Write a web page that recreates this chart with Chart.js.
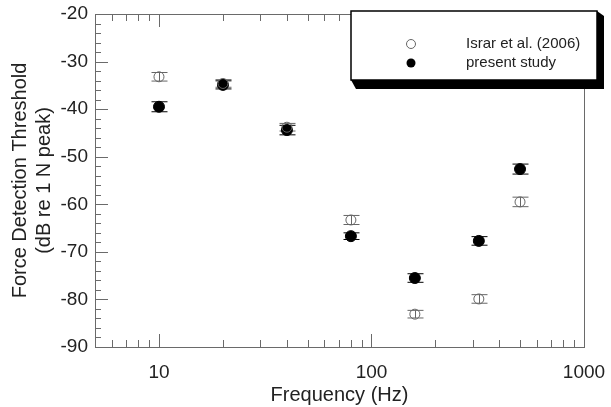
<!DOCTYPE html>
<html>
<head>
<meta charset="utf-8">
<script src="https://cdn.jsdelivr.net/npm/chart.js@4/dist/chart.umd.min.js"></script>
<style>
  html, body { margin: 0; padding: 0; background: #fff; }
  #wrap { width: 611px; height: 407px; }
</style>
</head>
<body>
<div id="wrap"><canvas id="chart"></canvas></div>
<script>
// frequencies tested (Hz)
const frequencies = [10, 20, 40, 80, 160, 320, 500];

// thresholds in dB re 1 N peak
const israrValues = [-33.2, -34.6, -43.8, -63.3, -83.1, -79.9, -59.5];
const israrErrors = [0.9, 0.8, 0.8, 0.95, 0.8, 0.9, 1.0];
const presentValues = [-39.5, -34.9, -44.4, -66.7, -75.5, -67.7, -52.6];
const presentErrors = [1.05, 0.85, 1.0, 0.7, 0.9, 0.9, 1.05];

const seriesLabels = ['Israr et al. (2006)', 'present study'];
const xTickValues = [10, 100, 1000];
const yTitleLines = ['Force Detection Threshold', '(dB re 1 N peak)'];
const xTitle = 'Frequency (Hz)';

const FONT = 'Arial, "Liberation Sans", sans-serif';
const TEXT = '#222';
const AXIS = '#6a6a6a';

function toPoints(values) {
  return frequencies.map((f, i) => ({ x: f, y: values[i] }));
}

// frame + inward ticks (left and bottom/top)
const tickPlugin = {
  id: 'insideTicks',
  afterDraw(chart) {
    const { ctx, chartArea: a, scales } = chart;
    const xs = scales.x, ys = scales.y;
    ctx.save();
    ctx.strokeStyle = AXIS;
    ctx.lineWidth = 1;
    ctx.strokeRect(a.left + 0.5, a.top + 0.5, a.right - a.left, a.bottom - a.top);

    ctx.beginPath();
    // y ticks every 2 dB, long ones every 10
    for (let v = ys.min; v <= ys.max; v += 2) {
      const y = Math.round(ys.getPixelForValue(v)) + 0.5;
      const len = (v % 10 === 0) ? 13 : 6;
      ctx.moveTo(a.left, y);
      ctx.lineTo(a.left + len, y);
    }
    // x log ticks, bottom and top
    for (let d = 1; d <= 1000; d *= 10) {
      for (let m = 1; m <= 9; m++) {
        const v = d * m;
        if (v <= xs.min || v >= xs.max) continue;
        const x = Math.round(xs.getPixelForValue(v)) + 0.5;
        const len = (m === 1) ? 13 : 7;
        ctx.moveTo(x, a.bottom);
        ctx.lineTo(x, a.bottom - len);
        ctx.moveTo(x, a.top);
        ctx.lineTo(x, a.top + len);
      }
    }
    ctx.stroke();
    ctx.restore();
  }
};

// vertical error bars with caps
const errorBarPlugin = {
  id: 'errorBars',
  beforeDatasetsDraw(chart) {
    const { ctx, scales } = chart;
    const errs = [israrErrors, presentErrors];
    ctx.save();
    chart.data.datasets.forEach((ds, di) => {
      ctx.strokeStyle = di === 0 ? '#666' : '#000';
      ctx.lineWidth = 1;
      ds.data.forEach((p, i) => {
        const x = Math.round(scales.x.getPixelForValue(p.x)) + 0.5;
        const y1 = scales.y.getPixelForValue(p.y + errs[di][i]);
        const y2 = scales.y.getPixelForValue(p.y - errs[di][i]);
        ctx.beginPath();
        ctx.moveTo(x, y1); ctx.lineTo(x, y2);
        ctx.moveTo(x - 8, y1); ctx.lineTo(x + 8, y1);
        ctx.moveTo(x - 8, y2); ctx.lineTo(x + 8, y2);
        ctx.stroke();
      });
    });
    ctx.restore();
  }
};

// boxed legend with a drop shadow, top right
const boxLegendPlugin = {
  id: 'boxLegend',
  afterDraw(chart) {
    const { ctx } = chart;
    const bx = 351, by = 11, bw = 246, bh = 69;
    ctx.save();
    ctx.fillStyle = '#000';
    ctx.beginPath();
    ctx.moveTo(bx + bw, by);
    ctx.lineTo(bx + bw + 7, by + 5);
    ctx.lineTo(bx + bw + 7, by + bh + 9);
    ctx.lineTo(bx + 5, by + bh + 9);
    ctx.lineTo(bx, by + bh);
    ctx.closePath();
    ctx.fill();
    ctx.fillStyle = '#fff';
    ctx.fillRect(bx, by, bw, bh);
    ctx.strokeStyle = '#000';
    ctx.lineWidth = 1.5;
    ctx.strokeRect(bx, by, bw, bh);

    chart.data.datasets.forEach((ds, i) => {
      const y = by + 33 + i * 19;
      ctx.beginPath();
      ctx.arc(bx + 60, y, 4.5, 0, Math.PI * 2);
      if (i === 0) {
        ctx.strokeStyle = '#666';
        ctx.lineWidth = 1;
        ctx.stroke();
      } else {
        ctx.fillStyle = '#000';
        ctx.fill();
      }
      ctx.fillStyle = TEXT;
      ctx.font = '15px ' + FONT;
      ctx.textBaseline = 'middle';
      ctx.textAlign = 'left';
      ctx.fillText(ds.label, bx + 115, y);
    });
    ctx.restore();
  }
};

const chart = new Chart(document.getElementById('chart'), {
  type: 'scatter',
  data: {
    datasets: [
      {
        label: seriesLabels[0],
        data: toPoints(israrValues),
        pointRadius: 5,
        pointBackgroundColor: 'rgba(0,0,0,0)',
        pointBorderColor: '#666',
        pointBorderWidth: 1,
      },
      {
        label: seriesLabels[1],
        data: toPoints(presentValues),
        pointRadius: 5.5,
        pointBackgroundColor: '#000',
        pointBorderColor: '#000',
        pointBorderWidth: 1,
      },
    ],
  },
  options: {
    responsive: true,
    maintainAspectRatio: false,
    animation: false,
    layout: { padding: { top: 14, right: 27, left: 0, bottom: 0 } },
    plugins: {
      legend: { display: false },
      tooltip: { enabled: false },
    },
    scales: {
      x: {
        type: 'logarithmic',
        min: 5,
        max: 1000,
        grid: { display: false, drawTicks: false },
        border: { display: false },
        afterBuildTicks: (s) => { s.ticks = xTickValues.map((v) => ({ value: v })); },
        afterFit: (s) => { s.height = 60; s.paddingLeft = 0; s.paddingRight = 0; },
        ticks: {
          color: TEXT,
          font: { family: FONT, size: 19 },
          padding: 14,
          maxRotation: 0,
          autoSkip: false,
          callback: (v) => String(v),
        },
        title: {
          display: true,
          text: xTitle,
          color: TEXT,
          font: { family: FONT, size: 20, lineHeight: 1.2 },
          padding: { top: 0, bottom: 0 },
        },
      },
      y: {
        min: -90,
        max: -20,
        grid: { display: false, drawTicks: false },
        border: { display: false },
        afterFit: (s) => { s.width = 95; s.paddingTop = 0; s.paddingBottom = 0; },
        ticks: {
          stepSize: 10,
          color: TEXT,
          font: { family: FONT, size: 19 },
          padding: 7,
        },
        title: {
          display: true,
          text: yTitleLines,
          color: TEXT,
          font: { family: FONT, size: 20, lineHeight: 1.2 },
          padding: { top: 8, bottom: 0 },
        },
      },
    },
  },
  plugins: [errorBarPlugin, tickPlugin, boxLegendPlugin],
});
</script>
</body>
</html>
